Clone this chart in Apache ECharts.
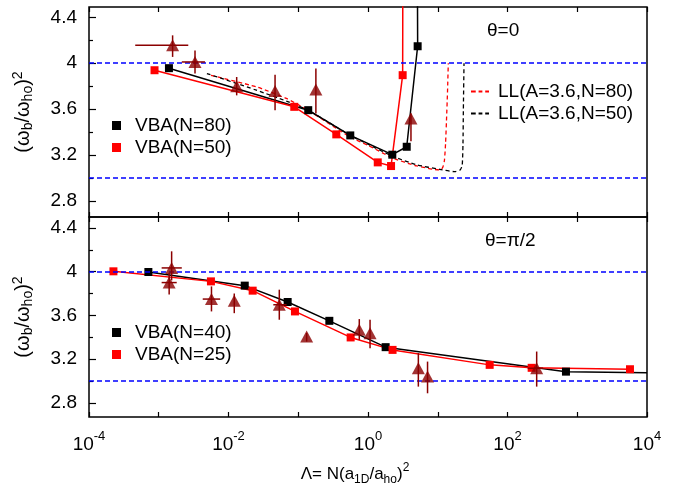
<!DOCTYPE html>
<html>
<head>
<meta charset="utf-8">
<script src="https://cdn.jsdelivr.net/npm/echarts@6/dist/echarts.min.js"></script>
<style>
  html, body { margin: 0; padding: 0; background: #fff; }
  #chart { width: 684px; height: 487px; }
</style>
</head>
<body>
<div id="chart"></div>
<script>
// axis ticks
const xTickVals = [1e-4, 1e-3, 1e-2, 1e-1, 1, 1e1, 1e2, 1e3, 1e4];
const xLabelVals = [1e-4, 1e-2, 1, 1e2, 1e4];
const yLabelVals = [2.8, 3.2, 3.6, 4, 4.4];
const yMinorVals = [3.0, 3.4, 3.8, 4.2];
const refLines = [4, 3];

// theta = 0 panel (last point of each VBA line only carries the line past the top)
const topVba80 = [[1.4e-3, 3.957], [0.139, 3.591], [0.557, 3.371], [2.23, 3.203], [3.59, 3.272], [5.15, 4.148], [5.1, 4.9]];
const topVba50 = [[8.7e-4, 3.939], [0.0877, 3.62], [0.351, 3.38], [1.38, 3.136], [2.14, 3.104], [3.14, 3.896], [3.16, 4.9]];
const topLL80 = [[5.6e-3, 3.895], [0.0251, 3.794], [0.0676, 3.693], [0.138, 3.59], [0.562, 3.355], [1.0, 3.285],
  [2.24, 3.175], [5.01, 3.105], [10.7, 3.07], [11.75, 3.09], [12.45, 3.15], [12.94, 3.3], [13.34, 3.5], [13.8, 3.75], [14.16, 4.0]];
const topLL50 = [[4.9e-3, 3.91], [0.0251, 3.765], [0.0676, 3.67], [0.138, 3.59], [0.562, 3.37], [1.0, 3.295],
  [2.24, 3.19], [5.01, 3.115], [10.7, 3.075], [17.66, 3.055], [20.9, 3.07], [22.4, 3.11], [23.0, 3.3], [23.3, 3.6], [23.8, 4.0]];
// [x, y, yLow, yHigh, xLow, xHigh]
const topExp = [
  [1.58e-3, 4.157, 4.055, 4.243, 4.6e-4, 2.65e-3],
  [3.31e-3, 4.011, 3.91, 4.11, 2.14e-3, 4.6e-3],
  [0.0131, 3.80, 3.72, 3.88, 0.0131, 0.0131],
  [0.0465, 3.759, 3.59, 3.90, 0.0465, 0.0465],
  [0.179, 3.771, 3.563, 3.954, 0.179, 0.179],
  [4.13, 3.519, 3.32, 3.563, 4.13, 4.13]
];

// theta = pi/2 panel (last black point only carries the line to the edge)
const botVba40 = [[7.1e-4, 3.997], [0.0171, 3.872], [0.0705, 3.722], [0.279, 3.55], [1.79, 3.309], [689, 3.085], [1e4, 3.076]];
const botVba25 = [[2.24e-4, 4.003], [5.6e-3, 3.911], [0.0222, 3.826], [0.0897, 3.636], [0.564, 3.398], [2.25, 3.284],
  [55.5, 3.147], [222, 3.12], [5700, 3.107]];
const botExp = [
  [1.53e-3, 4.034, 3.92, 4.186, 1.1e-3, 2.14e-3],
  [1.41e-3, 3.90, 3.79, 3.99, 1.1e-3, 1.81e-3],
  [5.7e-3, 3.749, 3.636, 3.865, 4.27e-3, 7.6e-3],
  [0.0121, 3.734, 3.62, 3.80, 0.0121, 0.0121],
  [0.0535, 3.697, 3.56, 3.835, 0.0439, 0.068],
  [0.132, 3.407, 3.36, 3.44, 0.132, 0.132],
  [0.75, 3.468, 3.376, 3.566, 0.75, 0.75],
  [1.07, 3.437, 3.30, 3.56, 1.07, 1.07],
  [5.27, 3.116, 2.948, 3.254, 5.27, 5.27],
  [7.14, 3.04, 2.887, 3.177, 7.14, 7.14],
  [262, 3.116, 2.948, 3.269, 195, 324]
];

const FONT = 'Liberation Sans, Arial, Helvetica, sans-serif';
const EXP_COLOR = '#8b0000';
const DASH_ICON = 'path://M0,0L5,0L5,2L0,2ZM8,0L12,0L12,2L8,2ZM15,0L19,0L19,2L15,2Z';

const subRich = function (size) {
  return {
    s: { fontSize: size, lineHeight: 14, verticalAlign: 'bottom', fontFamily: FONT, color: '#000' },
    p: { fontSize: size, lineHeight: 12, verticalAlign: 'top', fontFamily: FONT, color: '#000' }
  };
};

function xAxisFor(grid, pos, labels) {
  return {
    type: 'log', logBase: 10, gridIndex: grid, position: pos,
    min: 1e-4, max: 1e4,
    axisLine: { show: false },
    splitLine: { show: false },
    axisTick: { show: true, inside: true, length: 5, customValues: xTickVals, lineStyle: { color: '#000', width: 1.2 } },
    axisLabel: {
      show: labels, margin: 13, customValues: xLabelVals, color: '#000', fontFamily: FONT,
      formatter: function (v) {
        const e = Math.round(Math.log10(v));
        return '{b|10}{e|' + e + '}';
      },
      rich: {
        b: { fontSize: 19, lineHeight: 24, fontFamily: FONT, color: '#000', verticalAlign: 'bottom' },
        e: { fontSize: 13, lineHeight: 13, fontFamily: FONT, color: '#000', verticalAlign: 'top' }
      }
    },
    name: labels ? 'Λ= N(a{s|1D}/a{s|ho}){p|2}' : '',
    nameLocation: 'middle', nameGap: 45,
    nameTextStyle: { fontSize: 17, lineHeight: 24, color: '#000', fontFamily: FONT, rich: subRich(12), padding: [0, 26, 0, 0] }
  };
}

function yAxesFor(grid, min, max) {
  return [{
    type: 'value', gridIndex: grid, position: 'left', min: min, max: max,
    axisLine: { show: false }, splitLine: { show: false },
    axisTick: { show: true, inside: true, length: 7, customValues: yLabelVals, lineStyle: { color: '#000', width: 1.2 } },
    axisLabel: { margin: 12, customValues: yLabelVals, color: '#000', fontSize: 19, fontFamily: FONT },
    name: '(ω{s|b}/ω{s|ho}){p|2}',
    nameLocation: 'middle', nameGap: 54, nameRotate: 90,
    nameTextStyle: { fontSize: 20, lineHeight: 24, color: '#000', fontFamily: FONT, rich: subRich(14) }
  }, {
    type: 'value', gridIndex: grid, position: 'left', offset: 0, min: min, max: max,
    axisLine: { show: false }, splitLine: { show: false },
    axisTick: { show: true, inside: true, length: 4, customValues: yMinorVals, lineStyle: { color: '#000', width: 1.2 } },
    axisLabel: { show: false }
  }];
}

function vbaSeries(name, data, color, xi, yi, withRef, tail) {
  const s = {
    name: name, type: 'line', data: data, xAxisIndex: xi, yAxisIndex: yi,
    symbol: 'rect', showSymbol: true,
    symbolSize: function (v, p) { return tail && p.dataIndex === data.length - 1 ? 0 : 8; },
    lineStyle: { color: color, width: 1.5 }, itemStyle: { color: color },
    z: 4, animation: false
  };
  if (withRef) {
    s.markLine = {
      silent: true, symbol: 'none', label: { show: false }, animation: false,
      lineStyle: { color: '#0000ff', type: [5, 3], width: 1.5 },
      data: refLines.map(v => ({ yAxis: v }))
    };
  }
  return s;
}

function llSeries(name, data, color) {
  return {
    name: name, type: 'line', data: data, xAxisIndex: 0, yAxisIndex: 0,
    symbol: 'none', smooth: 0.2,
    lineStyle: { color: color, width: 1.3, type: [4, 3] }, itemStyle: { color: color },
    z: 3, animation: false
  };
}

function expSeries(data, xi, yi) {
  return [{
    type: 'custom', xAxisIndex: xi, yAxisIndex: yi, data: data, z: 5, animation: false,
    encode: { x: [0, 4, 5], y: [1, 2, 3] },
    renderItem: function (params, api) {
      const lo = api.coord([api.value(0), api.value(2)]);
      const hi = api.coord([api.value(0), api.value(3)]);
      const l = api.coord([api.value(4), api.value(1)]);
      const r = api.coord([api.value(5), api.value(1)]);
      const st = { stroke: EXP_COLOR, lineWidth: 1.5 };
      const children = [{ type: 'line', shape: { x1: lo[0], y1: lo[1], x2: hi[0], y2: hi[1] }, style: st }];
      if (r[0] - l[0] > 1) {
        children.push({ type: 'line', shape: { x1: l[0], y1: l[1], x2: r[0], y2: r[1] }, style: st });
      }
      return { type: 'group', children: children };
    }
  }, {
    type: 'scatter', xAxisIndex: xi, yAxisIndex: yi, data: data.map(d => [d[0], d[1]]),
    symbol: 'triangle', symbolSize: [13, 12], itemStyle: { color: EXP_COLOR }, z: 6, animation: false
  }];
}

const legendText = { fontSize: 19, color: '#000', fontFamily: FONT };

const option = {
  animation: false,
  backgroundColor: '#fff',
  grid: [
    { left: 89, right: 37, top: 7, height: 210, show: true, borderColor: '#000', borderWidth: 1.5, backgroundColor: 'transparent' },
    { left: 89, right: 37, top: 217, height: 200, show: true, borderColor: '#000', borderWidth: 1.5, backgroundColor: 'transparent' }
  ],
  xAxis: [xAxisFor(0, 'bottom', false), xAxisFor(0, 'top', false), xAxisFor(1, 'bottom', true), xAxisFor(1, 'top', false)],
  yAxis: [].concat(yAxesFor(0, 2.66, 4.49), yAxesFor(1, 2.67, 4.5)),
  legend: [
    { data: ['VBA(N=80)', 'VBA(N=50)'], orient: 'vertical', left: 107, top: 111, icon: 'rect', itemWidth: 9, itemHeight: 9, itemGap: 3,
      textStyle: Object.assign({ padding: [0, 0, 0, 9] }, legendText) },
    { data: ['LL(A=3.6,N=80)', 'LL(A=3.6,N=50)'], orient: 'vertical', left: 466, top: 77, icon: DASH_ICON,
      itemWidth: 18, itemHeight: 2, itemGap: 3,
      textStyle: Object.assign({ padding: [0, 0, 0, 4] }, legendText) },
    { data: ['VBA(N=40)', 'VBA(N=25)'], orient: 'vertical', left: 107, top: 318, icon: 'rect', itemWidth: 9, itemHeight: 9, itemGap: 3,
      textStyle: Object.assign({ padding: [0, 0, 0, 9] }, legendText) }
  ],
  graphic: [
    { type: 'text', left: 487, top: 21, style: { text: 'θ=0', fontSize: 19, fontFamily: FONT, fill: '#000' } },
    { type: 'text', left: 485, top: 231, style: { text: 'θ=π/2', fontSize: 19, fontFamily: FONT, fill: '#000' } }
  ],
  series: [
    vbaSeries('VBA(N=80)', topVba80, '#000', 0, 0, true, true),
    vbaSeries('VBA(N=50)', topVba50, '#ff0000', 0, 0, false, true),
    llSeries('LL(A=3.6,N=80)', topLL80, '#ff0000'),
    llSeries('LL(A=3.6,N=50)', topLL50, '#000'),
    vbaSeries('VBA(N=40)', botVba40, '#000', 2, 2, true, true),
    vbaSeries('VBA(N=25)', botVba25, '#ff0000', 2, 2, false, false)
  ].concat(expSeries(topExp, 0, 0), expSeries(botExp, 2, 2))
};

const myChart = echarts.init(document.getElementById('chart'));
myChart.setOption(option);
</script>
</body>
</html>
